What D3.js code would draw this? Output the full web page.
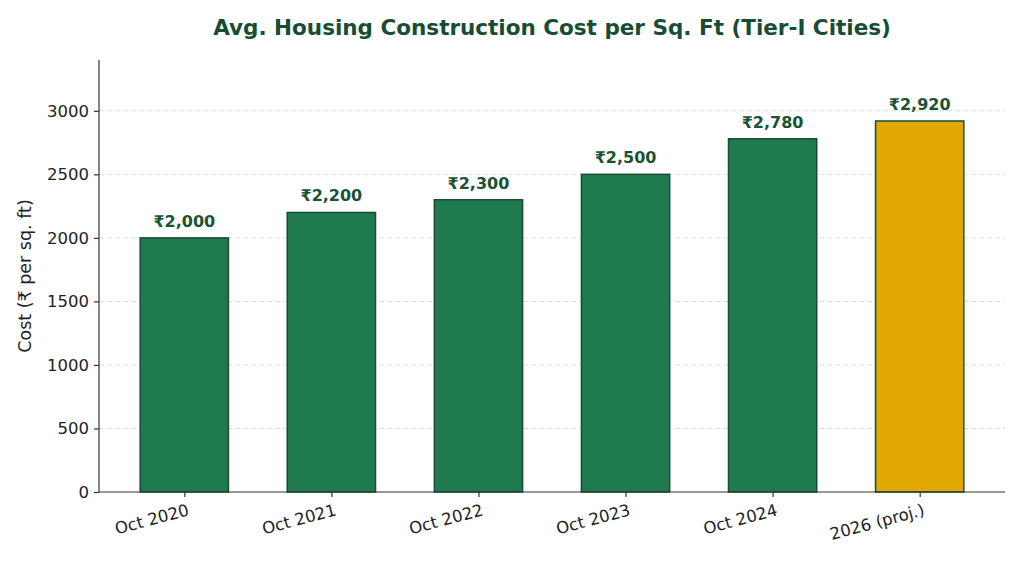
<!DOCTYPE html>
<html>
<head>
<meta charset="utf-8">
<script src="https://cdn.jsdelivr.net/npm/d3@7"></script>
<style>
body { margin: 0; background: #fff; }
svg { display: block; font-family: "DejaVu Sans", sans-serif; }
.grid line { stroke: #dddddd; stroke-dasharray: 5,3; }
.axis path, .axis line { stroke: #333; stroke-width: 1.2; }
.axis text { fill: #222; font-size: 16.5px; font-family: "DejaVu Sans", sans-serif; }
</style>
</head>
<body>
<div class="chart"></div>
<script>
var periods = ["Oct 2020", "Oct 2021", "Oct 2022", "Oct 2023", "Oct 2024", "2026 (proj.)"],
costs = [2000, 2200, 2300, 2500, 2780, 2920],
projected = [false, false, false, false, false, true],
yTicks = [0, 500, 1000, 1500, 2000, 2500, 3000];

var width = 1024,
height = 562,
plotLeft = 99,
plotRight = 1005,
plotTop = 60,
plotBottom = 492,
barWidth = 0.6;

var svg = d3.select("div.chart")
	.append("svg")
	.attr("width", width)
	.attr("height", height);

var x = d3.scaleLinear()
	.domain([-0.58, periods.length - 1 + 0.58])
	.range([plotLeft, plotRight]);

var y = d3.scaleLinear()
	.domain([0, 3400])
	.range([plotBottom, plotTop]);

// dashed horizontal grid
svg.append("g")
	.attr("class", "grid")
	.selectAll("line")
	.data(yTicks.filter(function(d) { return d > 0; }))
	.enter().append("line")
	.attr("x1", plotLeft)
	.attr("x2", plotRight)
	.attr("y1", y)
	.attr("y2", y);

svg.append("g")
	.selectAll("rect")
	.data(costs)
	.enter().append("rect")
	.attr("x", function(d, i) { return x(i - barWidth / 2); })
	.attr("width", function() { return x(barWidth) - x(0); })
	.attr("y", function(d) { return y(d); })
	.attr("height", function(d) { return y(0) - y(d); })
	.attr("fill", function(d, i) { return projected[i] ? "#e0a800" : "#207a4f"; })
	.attr("stroke", "#174d33")
	.attr("stroke-width", 1.5);

svg.append("g")
	.selectAll("text")
	.data(costs)
	.enter().append("text")
	.attr("x", function(d, i) { return x(i); })
	.attr("y", function(d) { return y(d) - 11; })
	.attr("text-anchor", "middle")
	.attr("font-size", "16px")
	.attr("font-weight", "bold")
	.attr("fill", "#1a5234")
	.text(function(d) { return "₹" + d3.format(",")(d); });

var yAxis = svg.append("g")
	.attr("class", "axis")
	.attr("transform", "translate(" + plotLeft + ",0)")
	.call(d3.axisLeft(y).tickValues(yTicks).tickFormat(d3.format("d"))
		.tickSize(5).tickPadding(5).tickSizeOuter(0));
yAxis.select(".domain").attr("d", "M0," + plotTop + "V" + plotBottom);

var xAxis = svg.append("g")
	.attr("class", "axis")
	.attr("transform", "translate(0," + plotBottom + ")")
	.call(d3.axisBottom(x).tickValues(d3.range(periods.length))
		.tickFormat(function(i) { return periods[i]; })
		.tickSize(5).tickSizeOuter(0));
xAxis.select(".domain").attr("d", "M" + plotLeft + ",0H" + plotRight);
xAxis.selectAll("text")
	.attr("text-anchor", "end")
	.attr("y", 0)
	.attr("dy", "0.75em")
	.attr("transform", "translate(2,11) rotate(-15)");

svg.append("text")
	.attr("transform", "translate(31," + (plotTop + plotBottom) / 2 + ") rotate(-90)")
	.attr("text-anchor", "middle")
	.attr("font-size", "17.5px")
	.attr("fill", "#222")
	.text("Cost (₹ per sq. ft)");

svg.append("text")
	.attr("x", 552)
	.attr("y", 35)
	.attr("text-anchor", "middle")
	.attr("font-size", "21.5px")
	.attr("font-weight", "bold")
	.attr("fill", "#174d33")
	.text("Avg. Housing Construction Cost per Sq. Ft (Tier-I Cities)");
</script>
</body>
</html>
